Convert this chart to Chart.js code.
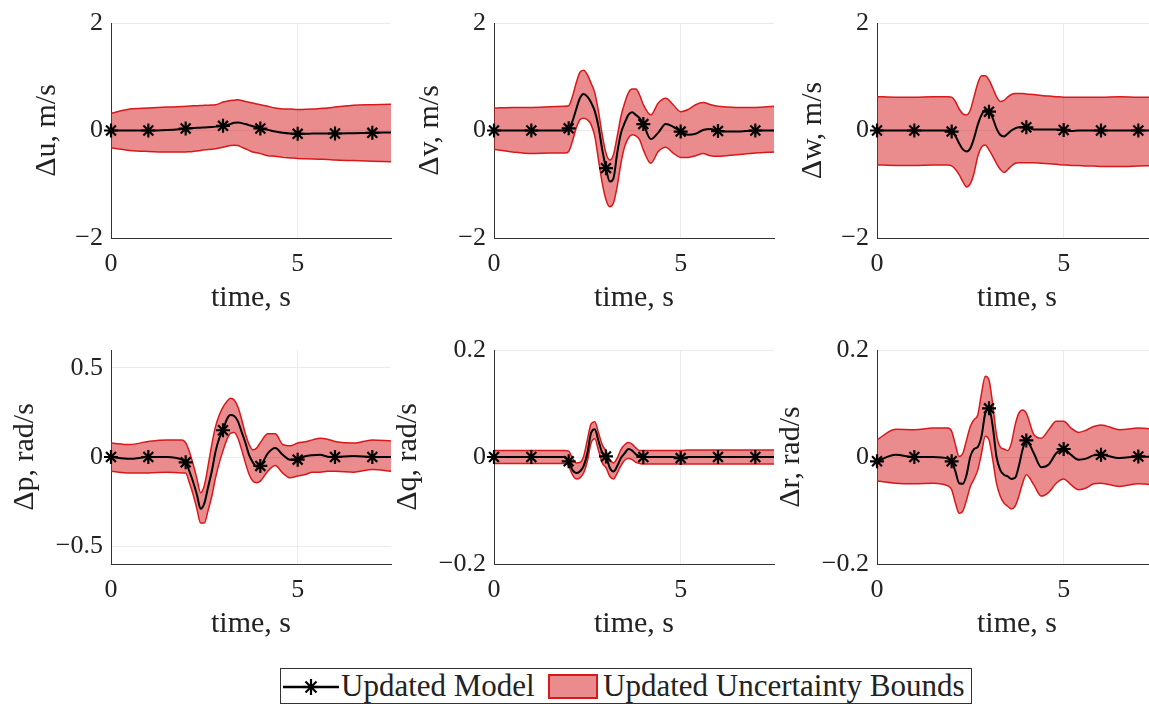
<!DOCTYPE html>
<html>
<head>
<meta charset="utf-8">
<script src="https://cdn.jsdelivr.net/npm/chart.js@4.4.0/dist/chart.umd.min.js"></script>
<style>
  html, body { margin: 0; padding: 0; background: #fff; overflow: hidden; }
  #page { position: relative; width: 1149px; height: 704px; overflow: hidden; font-family: "Liberation Serif", serif; color: #222; }
  #page canvas { position: absolute; }
  #legend { position: absolute; left: 280px; top: 668px; width: 692px; height: 36px; box-sizing: border-box; border: 1px solid #333; background: #fff; }
  #legend .txt { position: absolute; top: 0; line-height: 34px; font-size: 31px; white-space: nowrap; }
  #legend svg { position: absolute; left: 2px; top: 1px; }
  #legend .patch { position: absolute; left: 267px; top: 5px; width: 50px; height: 25px; box-sizing: border-box; border: 2px solid #d7191c; background: rgba(214, 25, 28, 0.5); }
</style>
</head>
<body>
<div id="page">
  <canvas id="c-u"></canvas>
  <canvas id="c-v"></canvas>
  <canvas id="c-w"></canvas>
  <canvas id="c-p"></canvas>
  <canvas id="c-q"></canvas>
  <canvas id="c-r"></canvas>
  <div id="legend">
    <svg width="56" height="34" viewBox="0 0 56 34">
      <line x1="0" y1="17" x2="56" y2="17" stroke="#000" stroke-width="2.5"/>
      <g stroke="#000" stroke-width="2.2">
        <line x1="20" y1="17" x2="36" y2="17"/>
        <line x1="28" y1="9" x2="28" y2="25"/>
        <line x1="22.5" y1="11.5" x2="33.5" y2="22.5"/>
        <line x1="22.5" y1="22.5" x2="33.5" y2="11.5"/>
      </g>
    </svg>
    <span class="txt" style="left: 60px;">Updated Model</span>
    <div class="patch"></div>
    <span class="txt" style="left: 322px;">Updated Uncertainty Bounds</span>
  </div>
</div>
<script>
// time samples, s
const time = [0, 0.5, 1, 1.5, 1.9, 2.0, 2.1, 2.2, 2.3, 2.4, 2.5, 2.6, 2.7, 2.8, 2.9, 3.0, 3.1, 3.2, 3.3, 3.4, 3.5, 3.6, 3.7, 3.8, 3.9, 4.0,
  4.2, 4.4, 4.6, 4.8, 5.0, 5.2, 5.4, 5.6, 5.8, 6.0, 6.5, 7.0, 7.5];
const markerTimes = [0, 1, 2, 3, 4, 5, 6, 7];
const xTicks = [0, 5];
const velTicks = [-2, 0, 2];
const pTicks = [-0.5, 0, 0.5];
const qrTicks = [-0.2, 0, 0.2];

// delta u, m/s
const uModel = [0, 0, 0, 0.01, 0.03, 0.037, 0.042, 0.046, 0.05, 0.053, 0.056, 0.06, 0.065, 0.072, 0.08, 0.087, 0.1, 0.12, 0.143, 0.15, 0.137, 0.12, 0.1, 0.08, 0.062, 0.037,
  0.012, -0.02, -0.043, -0.056, -0.062, -0.06, -0.058, -0.056, -0.056, -0.056, -0.05, -0.043, -0.037];
const uUpper = [0.32, 0.40, 0.42, 0.435, 0.445, 0.45, 0.455, 0.46, 0.462, 0.465, 0.47, 0.472, 0.475, 0.48, 0.5, 0.53, 0.545, 0.56, 0.565, 0.57, 0.56, 0.54, 0.525, 0.51, 0.495, 0.48,
  0.45, 0.42, 0.40, 0.40, 0.39, 0.395, 0.40, 0.41, 0.42, 0.435, 0.47, 0.48, 0.49];
const uLower = [-0.32, -0.37, -0.39, -0.40, -0.40, -0.40, -0.395, -0.39, -0.38, -0.37, -0.36, -0.355, -0.35, -0.34, -0.325, -0.31, -0.295, -0.28, -0.275, -0.28, -0.31, -0.34, -0.37, -0.40, -0.415, -0.43,
  -0.47, -0.48, -0.50, -0.51, -0.52, -0.525, -0.53, -0.535, -0.54, -0.55, -0.56, -0.57, -0.58];

// delta v, m/s
const vModel = [0, 0, 0, 0, 0, 0.04, 0.17, 0.39, 0.60, 0.68, 0.63, 0.52, 0.36, 0.07, -0.36, -0.70, -0.95, -0.89, -0.42, -0.05, 0.14, 0.29, 0.34, 0.29, 0.23, 0.12,
  -0.16, -0.04, 0.12, 0.07, -0.02, -0.08, -0.06, 0.01, 0.03, -0.01, -0.02, 0, 0];
const vUpper = [0.42, 0.43, 0.43, 0.44, 0.45, 0.46, 0.63, 0.88, 1.08, 1.12, 1.04, 0.88, 0.70, 0.35, -0.08, -0.42, -0.55, -0.45, -0.11, 0.26, 0.51, 0.70, 0.77, 0.77, 0.66, 0.48,
  0.29, 0.51, 0.60, 0.48, 0.35, 0.39, 0.48, 0.52, 0.48, 0.45, 0.43, 0.43, 0.45];
const vLower = [-0.35, -0.40, -0.43, -0.42, -0.42, -0.39, -0.20, 0.04, 0.20, 0.23, 0.20, 0.11, -0.11, -0.55, -0.98, -1.29, -1.42, -1.35, -1.04, -0.61, -0.30, -0.14, -0.08, -0.10, -0.17, -0.36,
  -0.61, -0.39, -0.31, -0.42, -0.50, -0.50, -0.47, -0.43, -0.47, -0.48, -0.45, -0.42, -0.40];

// delta w, m/s
const wModel = [0, 0, 0, 0, 0, -0.02, -0.10, -0.24, -0.35, -0.39, -0.33, -0.14, 0.11, 0.29, 0.38, 0.35, 0.23, 0.04, -0.08, -0.11, -0.06, 0, 0.04, 0.06, 0.06, 0.06,
  0.02, 0.02, 0.02, 0.02, 0.01, -0.01, 0, 0, 0, 0, 0, 0, 0];
const wUpper = [0.63, 0.62, 0.62, 0.63, 0.63, 0.62, 0.54, 0.40, 0.31, 0.29, 0.38, 0.63, 0.88, 1.02, 1.02, 0.94, 0.79, 0.63, 0.54, 0.56, 0.62, 0.67, 0.69, 0.69, 0.69, 0.68,
  0.67, 0.65, 0.64, 0.63, 0.62, 0.62, 0.62, 0.62, 0.62, 0.62, 0.63, 0.62, 0.62];
const wLower = [-0.64, -0.65, -0.65, -0.64, -0.64, -0.66, -0.72, -0.82, -0.95, -1.05, -0.99, -0.79, -0.48, -0.31, -0.27, -0.36, -0.48, -0.61, -0.72, -0.78, -0.73, -0.66, -0.61, -0.60, -0.60, -0.60,
  -0.60, -0.61, -0.62, -0.63, -0.64, -0.65, -0.65, -0.66, -0.66, -0.67, -0.67, -0.66, -0.65];

// delta p, rad/s
const pModel = [0, -0.01, 0, 0, -0.015, -0.03, -0.08, -0.14, -0.21, -0.29, -0.26, -0.17, -0.08, 0.03, 0.105, 0.15, 0.21, 0.235, 0.23, 0.20, 0.14, 0.08, 0.01, -0.03, -0.055, -0.05,
  0.02, 0.05, 0.013, -0.015, -0.015, 0.004, 0.01, 0.012, 0.002, 0, 0.005, 0, 0];
const pUpper = [0.078, 0.07, 0.087, 0.096, 0.096, 0.08, 0.03, -0.04, -0.12, -0.20, -0.16, -0.05, 0.07, 0.17, 0.235, 0.28, 0.31, 0.33, 0.32, 0.28, 0.21, 0.13, 0.07, 0.04, 0.05, 0.08,
  0.13, 0.13, 0.07, 0.063, 0.078, 0.085, 0.096, 0.105, 0.10, 0.087, 0.078, 0.096, 0.09];
const pLower = [-0.08, -0.09, -0.09, -0.085, -0.09, -0.09, -0.145, -0.21, -0.29, -0.37, -0.37, -0.30, -0.22, -0.117, -0.033, 0.035, 0.096, 0.133, 0.137, 0.105, 0.04, -0.033, -0.098, -0.135, -0.144, -0.135,
  -0.08, -0.048, -0.09, -0.117, -0.107, -0.098, -0.085, -0.085, -0.08, -0.08, -0.085, -0.07, -0.08];

// delta q, rad/s
const qModel = [0, 0, 0, 0, 0, -0.008, -0.024, -0.03, -0.027, -0.017, 0.007, 0.045, 0.052, 0.03, 0.008, 0.001, -0.02, -0.027, -0.017, -0.002, 0.007, 0.015, 0.012, 0.005, 0.002, 0,
  0, 0, 0, 0, -0.002, 0, 0, 0, 0, 0, 0, 0, 0];
const qUpper = [0.012, 0.012, 0.012, 0.012, 0.012, 0.011, -0.002, -0.011, -0.01, 0.001, 0.032, 0.062, 0.066, 0.045, 0.023, 0.011, -0.005, -0.011, -0.002, 0.014, 0.023, 0.027, 0.024, 0.017, 0.012, 0.012,
  0.012, 0.012, 0.012, 0.012, 0.012, 0.013, 0.013, 0.013, 0.013, 0.013, 0.013, 0.013, 0.013];
const qLower = [-0.012, -0.012, -0.012, -0.012, -0.012, -0.017, -0.033, -0.041, -0.039, -0.03, -0.008, 0.026, 0.034, 0.012, -0.011, -0.02, -0.036, -0.041, -0.03, -0.016, -0.006, -0.003, -0.005, -0.01, -0.012, -0.013,
  -0.013, -0.013, -0.013, -0.013, -0.013, -0.013, -0.013, -0.013, -0.013, -0.013, -0.013, -0.013, -0.013];

// delta r, rad/s
const rModel = [-0.008, 0.004, 0, 0, -0.003, -0.008, -0.027, -0.049, -0.05, -0.033, 0.001, 0.015, 0.019, 0.039, 0.082, 0.091, 0.057, 0.001, -0.024, -0.033, -0.036, -0.041, -0.039, -0.017, 0.014, 0.031,
  0.007, -0.019, -0.014, 0.007, 0.015, 0.004, -0.005, -0.003, 0.003, 0.004, -0.002, 0.001, 0];
const rUpper = [0.032, 0.052, 0.051, 0.054, 0.054, 0.048, 0.023, 0.001, 0.007, 0.032, 0.057, 0.07, 0.079, 0.119, 0.151, 0.144, 0.098, 0.042, 0.019, 0.015, 0.012, 0.026, 0.06, 0.082, 0.088, 0.082,
  0.042, 0.035, 0.051, 0.067, 0.067, 0.054, 0.046, 0.05, 0.057, 0.06, 0.051, 0.054, 0.051];
const rLower = [-0.045, -0.049, -0.05, -0.049, -0.054, -0.061, -0.086, -0.105, -0.101, -0.08, -0.055, -0.041, -0.024, 0.007, 0.039, 0.032, -0.005, -0.049, -0.073, -0.086, -0.092, -0.097, -0.092, -0.073, -0.049, -0.033,
  -0.052, -0.073, -0.066, -0.049, -0.041, -0.052, -0.061, -0.058, -0.05, -0.049, -0.055, -0.05, -0.052];

const RED = "#d7191c";
const FILL = "rgba(214, 25, 28, 0.5)";
const FONT = "'Liberation Serif', serif";

const colLeft = [111, 494, 877];
const rows = [
  { top: 23, height: 215, axisW: 82 },
  { top: 350, height: 214, axisW: 104 },
];
const plotW = 280;
const padTop = 30;
const xAxisH = 85;

const panels = [
  { id: "c-u", label: "Δu, m/s", model: uModel, upper: uUpper, lower: uLower, min: -2, max: 2, ticks: velTicks, col: 0, row: 0 },
  { id: "c-v", label: "Δv, m/s", model: vModel, upper: vUpper, lower: vLower, min: -2, max: 2, ticks: velTicks, col: 1, row: 0 },
  { id: "c-w", label: "Δw, m/s", model: wModel, upper: wUpper, lower: wLower, min: -2, max: 2, ticks: velTicks, col: 2, row: 0 },
  { id: "c-p", label: "Δp, rad/s", model: pModel, upper: pUpper, lower: pLower, min: -0.6, max: 0.6, ticks: pTicks, col: 0, row: 1 },
  { id: "c-q", label: "Δq, rad/s", model: qModel, upper: qUpper, lower: qLower, min: -0.2, max: 0.2, ticks: qrTicks, col: 1, row: 1 },
  { id: "c-r", label: "Δr, rad/s", model: rModel, upper: rUpper, lower: rLower, min: -0.2, max: 0.2, ticks: qrTicks, col: 2, row: 1 },
];

const points = (arr) => time.map((t, i) => ({ x: t, y: arr[i] }));
const fmt = (v) => (v < 0 ? "\u2212" : "") + String(Math.abs(v));

panels.forEach((p) => {
  const row = rows[p.row];
  const canvas = document.getElementById(p.id);
  canvas.width = row.axisW + plotW + 10;
  canvas.height = padTop + row.height + xAxisH;
  canvas.style.left = (colLeft[p.col] - row.axisW) + "px";
  canvas.style.top = (row.top - padTop) + "px";

  new Chart(canvas.getContext("2d"), {
    type: "line",
    data: {
      datasets: [
        {
          data: points(p.model),
          borderColor: "#000",
          borderWidth: 2,
          cubicInterpolationMode: "monotone",
          pointStyle: "star",
          pointRadius: (ctx) => (markerTimes.includes(time[ctx.dataIndex]) ? 7 : 0),
          pointBorderColor: "#000",
          pointBorderWidth: 2.2,
          fill: false,
          clip: false,
          order: 0,
        },
        {
          data: points(p.upper),
          borderColor: RED,
          borderWidth: 1.5,
          backgroundColor: FILL,
          cubicInterpolationMode: "monotone",
          pointRadius: 0,
          fill: "+1",
          order: 1,
        },
        {
          data: points(p.lower),
          borderColor: RED,
          borderWidth: 1.5,
          cubicInterpolationMode: "monotone",
          pointRadius: 0,
          fill: false,
          order: 2,
        },
      ],
    },
    options: {
      responsive: false,
      animation: false,
      devicePixelRatio: 1,
      layout: { padding: { top: padTop, right: 10, left: 0, bottom: 0 } },
      plugins: { legend: { display: false }, tooltip: { enabled: false } },
      scales: {
        x: {
          type: "linear",
          min: 0,
          max: 7.5,
          afterBuildTicks: (s) => { s.ticks = xTicks.map((v) => ({ value: v })); },
          afterFit: (s) => { s.height = xAxisH; },
          grid: { color: "#ebebeb", drawTicks: false },
          border: { color: "#333", width: 1 },
          ticks: { color: "#222", padding: 11, font: { family: FONT, size: 26 }, callback: fmt, maxRotation: 0 },
          title: { display: true, text: "time, s", color: "#222", font: { family: FONT, size: 30 }, padding: { top: 0, bottom: 7 } },
        },
        y: {
          type: "linear",
          min: p.min,
          max: p.max,
          afterBuildTicks: (s) => { s.ticks = p.ticks.map((v) => ({ value: v })); },
          afterFit: (s) => { s.width = row.axisW; },
          grid: { color: "#ebebeb", drawTicks: false },
          border: { color: "#333", width: 1 },
          ticks: { color: "#222", padding: 8, font: { family: FONT, size: 26 }, callback: fmt },
          title: { display: true, text: p.label, color: "#222", font: { family: FONT, size: 30 }, padding: 0 },
        },
      },
    },
  });
});
</script>
</body>
</html>
